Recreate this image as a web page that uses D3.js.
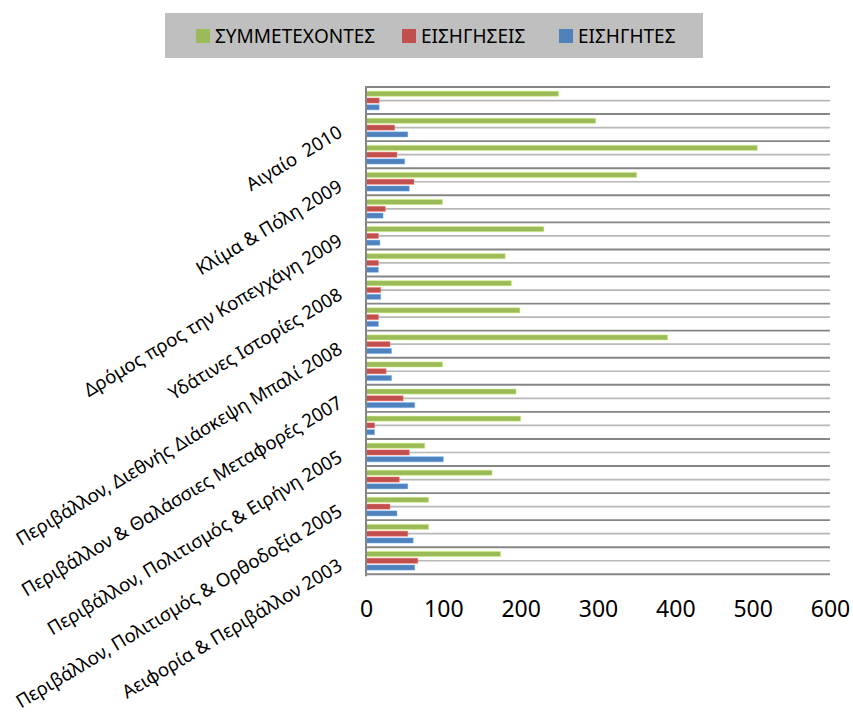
<!DOCTYPE html>
<html>
<head>
<meta charset="utf-8">
<script src="https://cdn.jsdelivr.net/npm/d3@7/dist/d3.min.js"></script>
<style>
  html, body { margin: 0; padding: 0; background: #fff; }
  svg { display: block; }
  text { font-family: "Noto Sans", "Open Sans", sans-serif; fill: #000; white-space: pre; }
</style>
</head>
<body>
<svg id="chart" width="853" height="715"></svg>
<script>
// Categories from bottom (index 0) to top; only every other label is shown in the original
const categories = [
  "Αειφορία & Περιβάλλον 2003", "",
  "Περιβάλλον, Πολιτισμός & Ορθοδοξία 2005", "",
  "Περιβάλλον, Πολιτισμός & Ειρήνη 2005", "",
  "Περιβάλλον & Θαλάσσιες Μεταφορές 2007", "",
  "Περιβάλλον, Διεθνής Διάσκεψη Μπαλί 2008", "",
  "Υδάτινες Ιστορίες 2008", "",
  "Δρόμος προς την Κοπεγχάγη 2009", "",
  "Κλίμα & Πόλη 2009", "",
  "Αιγαίο  2010", ""
];
const seriesNames = ["ΣΥΜΜΕΤΕΧΟΝΤΕΣ", "ΕΙΣΗΓΗΣΕΙΣ", "ΕΙΣΗΓΗΤΕΣ"];
const symmetexontes = [174, 81, 81, 163, 76, 200, 194, 99, 390, 199, 188, 180, 230, 99, 350, 506, 297, 249];
const eisigiseis    = [67, 54, 31, 43, 56, 11, 48, 26, 31, 16, 19, 16, 16, 25, 62, 40, 37, 17];
const eisigites     = [63, 61, 40, 54, 100, 11, 63, 33, 33, 16, 19, 16, 18, 22, 56, 50, 54, 17];
const xTicks = [0, 100, 200, 300, 400, 500, 600];
const seriesColors = ["#9bbb59", "#c0504d", "#4f81bd"];

const seriesValues = [symmetexontes, eisigiseis, eisigites];
const svg = d3.select("#chart");

const plot = { left: 366, right: 830, top: 87, bottom: 574.3 };

const x = d3.scaleLinear().domain([0, 600]).range([plot.left, plot.right]);
const y = d3.scaleBand().domain(d3.range(categories.length)).range([plot.bottom, plot.top]).padding(0);
const inner = d3.scaleBand().domain(d3.range(seriesNames.length)).range([0, y.bandwidth()])
  .paddingInner(0.25).paddingOuter(0.62);

// horizontal separator lines (dark at category boundaries, light at centers)
const g = svg.append("g");
g.selectAll("line.mid").data(d3.range(categories.length)).join("line")
  .attr("class", "mid")
  .attr("x1", plot.left).attr("x2", plot.right)
  .attr("y1", d => y(d) + y.bandwidth() / 2).attr("y2", d => y(d) + y.bandwidth() / 2)
  .attr("stroke", "#b8b8b8").attr("stroke-width", 1.7);
g.selectAll("line.sep").data(d3.range(categories.length)).join("line")
  .attr("class", "sep")
  .attr("x1", plot.left).attr("x2", plot.right)
  .attr("y1", d => y(d)).attr("y2", d => y(d))
  .attr("stroke", "#868686").attr("stroke-width", 1.9);

// bars
seriesValues.forEach((vals, si) => {
  svg.append("g").selectAll("rect").data(vals).join("rect")
    .attr("x", x(0))
    .attr("y", (d, i) => y(i) + inner(si))
    .attr("width", d => x(d) - x(0))
    .attr("height", inner.bandwidth())
    .attr("fill", seriesColors[si])
    .attr("stroke", d3.color(seriesColors[si]).brighter(0.8))
    .attr("stroke-opacity", 0.45)
    .attr("stroke-width", 1);
});

// bottom axis line
svg.append("line")
  .attr("x1", plot.left).attr("x2", plot.right)
  .attr("y1", plot.bottom).attr("y2", plot.bottom)
  .attr("stroke", "#868686").attr("stroke-width", 2);

// vertical axis line
svg.append("line")
  .attr("x1", plot.left).attr("x2", plot.left)
  .attr("y1", plot.top - 1).attr("y2", plot.bottom + 2)
  .attr("stroke", "#868686").attr("stroke-width", 2);

// x axis tick labels
const xAxis = d3.axisBottom(x).tickValues(xTicks).tickSize(0).tickPadding(0);
const xa = svg.append("g").attr("transform", `translate(0,${plot.bottom})`).call(xAxis);
xa.select(".domain").remove();
xa.selectAll("text")
  .attr("dy", null).attr("y", 43)
  .style("font-family", '"Noto Sans", sans-serif')
  .style("font-size", "23px").attr("fill", "#000");

// category labels, rotated
const yAxis = d3.axisLeft(y).tickFormat(i => categories[i]).tickSize(0).tickPadding(0);
const ya = svg.append("g").attr("transform", `translate(${plot.left - 25},0)`).call(yAxis);
ya.select(".domain").remove();
ya.selectAll("text")
  .attr("x", 0).attr("dy", null)
  .attr("dominant-baseline", "middle")
  .attr("text-anchor", "end")
  .attr("transform", "translate(0,4) rotate(-31)")
  .style("font-family", '"Noto Sans", sans-serif')
  .style("font-size", "18.6px").style("white-space", "pre").attr("fill", "#000");

// legend
const legend = svg.append("g");
legend.append("rect").attr("x", 165).attr("y", 13).attr("width", 538).attr("height", 45).attr("fill", "#bfbfbf");
const legendX = [196, 402, 559];
seriesNames.forEach((name, i) => {
  legend.append("rect").attr("x", legendX[i]).attr("y", 29).attr("width", 14).attr("height", 14)
    .attr("fill", seriesColors[i]);
  legend.append("text").attr("x", legendX[i] + 19).attr("y", 42.5)
    .style("font-size", "19px").text(name);
});
</script>
</body>
</html>
